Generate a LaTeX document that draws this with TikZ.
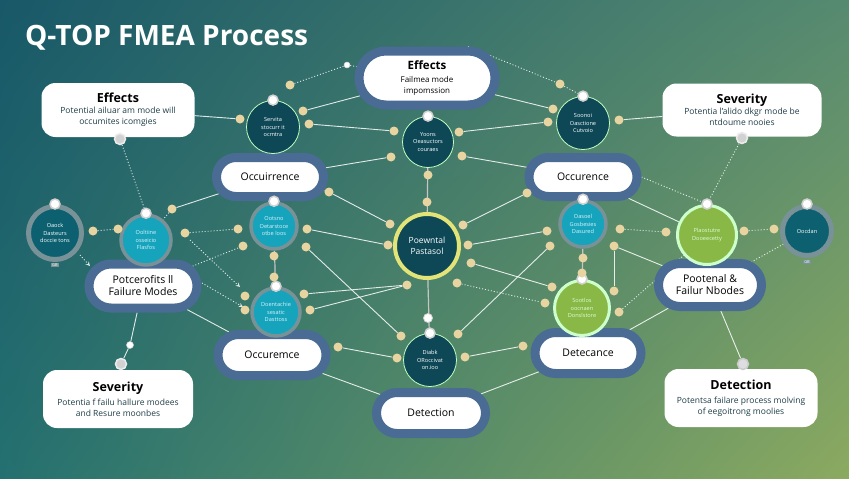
\documentclass[tikz,border=0pt]{standalone}
\usepackage{fontspec}
\setmainfont{Open Sans}
\usetikzlibrary{arrows,shapes.misc,shadings}

\definecolor{bgtl}{RGB}{24,88,104}
\definecolor{bgtr}{RGB}{86,138,112}
\definecolor{bgbl}{RGB}{36,112,112}
\definecolor{bgbr}{RGB}{140,170,96}
\definecolor{pillblue}{RGB}{74,108,148}
\definecolor{darkteal}{RGB}{14,72,86}
\definecolor{midteal}{RGB}{12,96,112}
\definecolor{cyanfill}{RGB}{22,164,188}
\definecolor{greenfill}{RGB}{138,184,70}
\definecolor{tandot}{RGB}{232,212,160}
\definecolor{ringgray}{RGB}{120,146,152}
\definecolor{ringyellow}{RGB}{226,228,120}
\definecolor{textdark}{RGB}{30,62,72}

\pgfdeclarelayer{back}
\pgfdeclarelayer{mid}
\pgfsetlayers{back,mid,main}

\begin{document}
\begin{tikzpicture}[x=1pt,y=-1pt,>=stealth,
  callout/.style={rectangle,rounded corners=14pt,fill=white,align=center,inner sep=0pt,
    text=textdark,font=\fontsize{8.5}{11}\selectfont},
  pill/.style={rounded rectangle,draw=pillblue,line width=9pt,fill=white,align=center,
    inner sep=0pt,font=\fontsize{10.5}{12}\selectfont},
  darkc/.style={circle,fill=darkteal,draw=white!75!green,line width=0.8pt,text=white,
    align=center,inner sep=0pt,font=\fontsize{5.6}{7.2}\selectfont},
  ringc/.style={darkc,fill=midteal,draw=ringgray,line width=5pt},
  cyanc/.style={darkc,fill=cyanfill,draw=ringgray,line width=3.5pt,text=white!85!cyan},
  greenc/.style={darkc,fill=greenfill,draw=white!80!green,line width=3pt,text=white!85!green},
  bigc/.style={darkc,draw=ringyellow,line width=4pt,font=\fontsize{8.5}{10.5}\selectfont},
  wdot/.style={circle,fill=white,draw=gray!35,line width=1.5pt,minimum size=10pt,inner sep=0pt},
  gdot/.style={circle,fill=gray!35,draw=white!85!gray,line width=1.5pt,minimum size=11pt,inner sep=0pt},
  tdot/.style={circle,fill=tandot,minimum size=9pt,inner sep=0pt},
  conn/.style={draw=white,opacity=0.85,line width=0.9pt},
  dotconn/.style={conn,dash pattern=on 1pt off 2pt},
  grayconn/.style={draw=gray!45,line width=1.2pt}]

  \useasboundingbox (0,0) rectangle (849,479);
  \begin{pgfonlayer}{back}
    \shade[upper left=bgtl,upper right=bgtr,lower left=bgbl,lower right=bgbr]
      (0,0) rectangle (849,479);
  \end{pgfonlayer}

  \node[anchor=base west,inner sep=0pt,text=white,font=\fontsize{28}{34}\selectfont\bfseries]
    (title) at (25,45) {Q-TOP FMEA Process};

  \node[callout,minimum width=153pt,minimum height=54pt] (eff) at (118,110)
    {\textbf{\fontsize{12.5}{15}\selectfont\color{black}Effects}\\Potential ailuar am mode will\\occumites icomgies};
  \node[callout,minimum width=159pt,minimum height=53pt] (sevT) at (742,110)
    {\textbf{\fontsize{12.5}{15}\selectfont\color{black}Severity}\\Potentia l'alido dkgr mode be\\ntdoume nooies};
  \node[callout,minimum width=150pt,minimum height=58pt] (sevB) at (118,399)
    {\textbf{\fontsize{12.5}{15}\selectfont\color{black}Severity}\\[3pt]Potentia f failu hallure modees\\and Resure moonbes};
  \node[callout,minimum width=153pt,minimum height=58pt] (detB) at (741,398)
    {\textbf{\fontsize{12.5}{15}\selectfont\color{black}Detection}\\[3pt]Potentsa failare process molving\\of eegoitrong moolies};

  \node[pill,minimum width=136pt,minimum height=54pt] (pEff) at (427,78)
    {\textbf{\fontsize{11.5}{14}\selectfont Effects}\\[1pt]{\fontsize{8}{9}\selectfont Failmea mode}\\[-1pt]{\fontsize{8}{9}\selectfont impomssion}};
  \node[pill,minimum width=107pt,minimum height=39pt] (occL) at (270,177) {Occuirrence};
  \node[pill,minimum width=108pt,minimum height=39pt] (occR) at (583,177) {Occurence};
  \node[pill,minimum width=108pt,minimum height=44pt] (pfmL) at (143,286)
    {Potcerofits ll\\Failure Modes};
  \node[pill,minimum width=103pt,minimum height=43pt] (pfmR) at (710,285)
    {Pootenal \&\\Failur Nbodes};
  \node[pill,minimum width=108pt,minimum height=41pt] (occB) at (272,355) {Occuremce};
  \node[pill,minimum width=106pt,minimum height=41pt] (detc) at (588,353) {Detecance};
  \node[pill,minimum width=109pt,minimum height=41pt] (detP) at (431,413) {Detection};

  \node[darkc,minimum size=53pt] (c1) at (273,127) {Servita\\stocurr it\\ocmtra};
  \node[darkc,minimum size=51pt] (c2) at (428,142) {Yoons\\Oeasuctors\\couraes};
  \node[darkc,minimum size=53pt] (c3) at (583,123) {Soonoi\\Oasctione\\Cutvoio};
  \node[ringc,minimum size=53pt] (c4) at (55,233) {Oaock\\Dasteurs\\doccie tons};
  \node[cyanc,minimum size=50pt] (c5) at (146,240) {Ooltiine\\osseicio\\Flasfos};
  \node[cyanc,minimum size=46pt] (c6) at (274,226) {Ootsno\\Oetarstoce\\otbe loos};
  \node[bigc,minimum size=64pt] (c7) at (427,246) {Poewntal\\Pastasol};
  \node[cyanc,minimum size=46pt] (c8) at (583,224) {Oasoel\\Gosbesies\\Dasured};
  \node[greenc,minimum size=59pt] (c9) at (707,235) {Plaostutre\\Dooeecetty};
  \node[ringc,minimum size=49pt] (c10) at (807,231) {Oocdan};
  \node[cyanc,minimum size=48pt] (c11) at (276,312) {Doentachie\\sesatic\\Dasttoss};
  \node[greenc,minimum size=55pt] (c12) at (582,308) {Sootlos\\oocnaen\\Donslstore};
  \node[darkc,minimum size=53pt] (c13) at (430,360) {Diabk\\ORoccivat\\on.ioo};

  \node[fill=ringgray,text=white,inner sep=1pt,font=\fontsize{4}{4}\selectfont] (c4tab) at (55,265) {GB};
  \node[fill=ringgray,text=white,inner sep=1pt,font=\fontsize{4}{4}\selectfont] (c10tab) at (807,262) {GB};

  \node[wdot] (c1d) at (c1.north) {};
  \node[wdot] (c2d) at (c2.north) {};
  \node[wdot] (c3d) at (c3.north) {};
  \node[wdot] (c4d) at (c4.north) {};
  \node[wdot] (c5d) at (c5.north) {};
  \node[wdot] (c6d) at (c6.north) {};
  \node[wdot] (c8d) at (c8.north) {};
  \node[wdot] (c9d) at (c9.north) {};
  \node[wdot] (c10d) at (c10.north) {};
  \node[wdot] (c11d) at (c11.north) {};
  \node[wdot] (c12d) at (c12.north) {};
  \node[wdot] (c13d) at (c13.north) {};

  \node[gdot] (effd) at (120,139) {};
  \node[gdot] (sevTd) at (742,138) {};
  \node[gdot] (sevBd) at (121,364) {};
  \node[gdot,fill=blue!8!gray!25,draw=white!60!gray] (detBd) at (743,364) {};

  \node[wdot,minimum size=6pt,line width=0.5pt] (w1) at (347,65) {};
  \node[wdot,minimum size=7pt,line width=0.5pt] (w2) at (130,345) {};
  \node[wdot,minimum size=9pt,line width=0.8pt] (w3) at (428,318) {};

  \node[tdot] (t1) at (240,119) {};
  \node[tdot] (t2) at (290,85) {};
  \node[tdot] (t3) at (303,111) {};
  \node[tdot] (t4) at (309,124) {};
  \node[tdot] (t5) at (394,131) {};
  \node[tdot] (t6) at (560,84) {};
  \node[tdot] (t7) at (553,109) {};
  \node[tdot] (t8) at (548,122) {};
  \node[tdot] (t9) at (619,120) {};
  \node[tdot] (t10) at (459,132) {};
  \node[tdot] (t11) at (462,156) {};
  \node[tdot] (t12) at (391,157) {};
  \node[tdot] (t13) at (172,209) {};
  \node[tdot] (t14) at (329,192) {};
  \node[tdot] (t15) at (390,224) {};
  \node[tdot] (t16) at (93,231) {};
  \node[tdot] (t17) at (118,229) {};
  \node[tdot] (t18) at (185,233) {};
  \node[tdot] (t19) at (238,229) {};
  \node[tdot] (t20) at (243,246) {};
  \node[tdot] (t21) at (307,229) {};
  \node[tdot] (t22) at (306,247) {};
  \node[tdot] (t23) at (274,256) {};
  \node[tdot] (t24) at (274,277) {};
  \node[tdot] (t25) at (388,245) {};
  \node[tdot] (t26) at (407,285) {};
  \node[tdot] (t27) at (245,296) {};
  \node[tdot] (t28) at (304,294) {};
  \node[tdot] (t29) at (310,310) {};
  \node[tdot] (t30) at (245,310) {};
  \node[tdot] (t31) at (527,193) {};
  \node[tdot] (t32) at (463,225) {};
  \node[tdot] (t33) at (468,245) {};
  \node[tdot] (t34) at (471,263) {};
  \node[tdot] (t35) at (457,283) {};
  \node[tdot] (t36) at (547,231) {};
  \node[tdot] (t37) at (550,246) {};
  \node[tdot] (t38) at (545,303) {};
  \node[tdot] (t39) at (552,287) {};
  \node[tdot] (t40) at (583,258) {};
  \node[tdot] (t41) at (582,273) {};
  \node[tdot] (t42) at (620,229) {};
  \node[tdot] (t43) at (614,246) {};
  \node[tdot] (t44) at (666,232) {};
  \node[tdot] (t45) at (744,231) {};
  \node[tdot] (t46) at (774,229) {};
  \node[tdot] (t47) at (614,291) {};
  \node[tdot] (t48) at (619,312) {};
  \node[tdot] (t49) at (428,175) {};
  \node[tdot] (t50) at (427,202) {};
  \node[tdot] (t51) at (338,347) {};
  \node[tdot] (t52) at (397,358) {};
  \node[tdot] (t53) at (401,336) {};
  \node[tdot] (t54) at (458,334) {};
  \node[tdot] (t55) at (465,357) {};
  \node[tdot] (t56) at (523,346) {};

  \coordinate (a1) at (190,240);
  \coordinate (a2) at (240,287);
  \coordinate (a3) at (202,283);
  \coordinate (a4) at (243,307);
  \coordinate (a5) at (80,255);
  \coordinate (a6) at (90,266);

  \begin{pgfonlayer}{mid}
    \draw[conn] (eff) -- (t1);
    \draw[conn] (t3) -- (pEff);
    \draw[dotconn] (t2) -- (w1) -- (pEff);
    \draw[conn] (t4) -- (t5);
    \draw[conn] (pEff) -- (t7);
    \draw[dotconn] (pEff.north east) -- (t6) -- (c3d);
    \draw[conn] (t10) -- (t8);
    \draw[conn] (t9) -- (sevT);
    \draw[dotconn] (sevTd) -- (c9d);
    \draw[dotconn] (effd) -- (c5d);
    \draw[conn] (occL) -- (t12);
    \draw[conn] (occL) -- (t14) -- (t15);
    \draw[conn] (occL) -- (t13);
    \draw[dotconn] (t13) -- (c5);
    \draw[dotconn] (t16) -- (t17);
    \draw[dotconn] (t18) -- (t19);
    \draw[dotconn] (pfmL) -- (t20);
    \draw[dotconn,->] (a1) -- (a2);
    \draw[dotconn,->] (a3) -- (a4);
    \draw[dotconn,->] (a5) -- (a6);
    \draw[conn] (t21) -- (t25);
    \draw[conn] (t22) -- (t53);
    \draw[conn] (t28) -- (t26);
    \draw[conn] (t29) -- (t26);
    \draw[grayconn] (c2) -- (c7);
    \draw[grayconn] (c6) -- (c11);
    \draw[grayconn] (c7) -- (c13);
    \draw[grayconn] (c8) -- (c12);
    \draw[conn] (pfmL) -- (w2) -- (sevBd);
    \draw[conn] (pfmL) -- (occB);
    \draw[conn] (t51) -- (t52);
    \draw[conn] (occB) -- (detP);
    \draw[conn] (t11) -- (occR);
    \draw[conn] (t31) -- (t32);
    \draw[conn] (t33) -- (t36);
    \draw[conn] (t34) -- (t39);
    \draw[dotconn] (t35) -- (t38);
    \draw[conn] (t37) -- (t54);
    \draw[conn] (t55) -- (t56);
    \draw[conn] (occR) -- (c9);
    \draw[dotconn] (occR.east) -- (c9d);
    \draw[dotconn] (t42) -- (t44);
    \draw[dotconn] (t45) -- (t46);
    \draw[dotconn] (c10) -- (pfmR);
    \draw[conn] (t43) -- (pfmR);
    \draw[conn] (t43) -- (t47);
    \draw[dotconn] (t48) -- (c9);
    \draw[conn] (detP) -- (detc);
    \draw[conn] (detc) -- (pfmR);
    \draw[conn] (pfmR) -- (detBd);
  \end{pgfonlayer}
\end{tikzpicture}
\end{document}
